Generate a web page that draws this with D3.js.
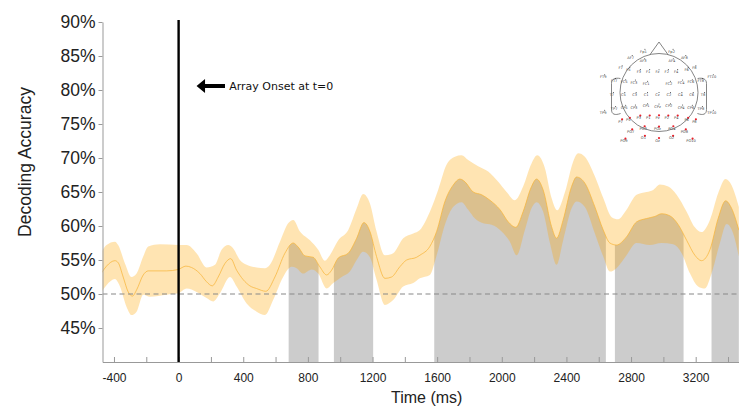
<!DOCTYPE html>
<meta charset="utf-8">
<style>

    body {
        margin: 0;
        background: #fff;
    }

    svg {
        display: block;
        font-family: "Liberation Sans", Arial, sans-serif;
    }

    .axis path, .axis line {
        stroke: #999;
    }

    .axis text {
        fill: #222;
    }

    .band {
        fill: #ffa500;
        fill-opacity: 0.3;
    }

    .mean {
        fill: none;
        stroke: #f7b53c;
        stroke-opacity: 0.75;
        stroke-width: 1;
    }

    .sig {
        fill: #cccccc;
    }

    .chance {
        stroke: #888;
        stroke-width: 1.2;
        stroke-dasharray: 5, 3.5;
    }

    .onset {
        stroke: #000;
        stroke-width: 2.4;
    }

    .head circle.outline, .head path {
        fill: none;
        stroke: #666;
        stroke-width: 0.8;
    }

    .head text {
        font-family: "DejaVu Sans", sans-serif;
        font-size: 3.6px;
        fill: #444;
        text-anchor: middle;
    }

</style>
<body>
<script src="https://d3js.org/d3.v7.min.js"></script>
<script>

    // time (ms), decoding accuracy (%)
    var meanAcc = [[-477,53.1],[-446,54.1],[-394,54.9],[-374,54.6],[-343,52.5],[-312,50.3],[-285,49.7],[-260,50.6],[-219,52.8],[-188,53.4],[-74,53.4],[-3,53.6],[45,54.1],[80,53.9],[132,53.0],[173,51.8],[208,51.2],[245,52.5],[287,54.5],[322,55.2],[359,53.5],[400,52.1],[441,51.2],[483,50.8],[540,50.4],[596,52.5],[658,56.0],[709,57.5],[740,56.9],[782,55.6],[833,55.4],[874,54.0],[916,52.8],[947,53.5],[988,55.3],[1050,56.0],[1102,58.2],[1147,60.5],[1184,59.2],[1225,55.5],[1277,52.3],[1318,52.5],[1369,54.0],[1411,55.0],[1473,55.4],[1493,55.7],[1555,57.0],[1597,59.2],[1648,63.6],[1699,66.0],[1741,66.9],[1772,66.5],[1823,65.0],[1875,64.6],[1926,63.8],[1989,62.4],[2040,60.6],[2087,59.8],[2132,62.1],[2184,65.8],[2215,66.9],[2256,65.3],[2308,59.9],[2339,58.2],[2380,60.9],[2432,65.8],[2463,67.2],[2514,66.3],[2576,62.8],[2628,59.4],[2669,57.5],[2710,57.2],[2772,58.4],[2834,60.6],[2896,61.1],[2947,61.4],[2989,61.8],[3040,61.5],[3092,60.2],[3144,57.9],[3195,55.7],[3236,54.9],[3288,56.5],[3339,61.1],[3385,63.7],[3422,62.6],[3467,59.4]];

    var upperAcc = [[-477,56.2],[-446,57.2],[-394,57.7],[-374,57.2],[-332,54.5],[-291,52.5],[-260,53.0],[-219,55.5],[-188,57.0],[-116,57.3],[-3,57.2],[50,57.2],[111,56.0],[173,53.9],[225,54.3],[266,56.5],[307,57.2],[338,56.7],[379,55.0],[421,54.3],[483,53.9],[534,53.8],[565,54.3],[627,57.7],[678,60.4],[709,60.9],[751,59.2],[813,57.9],[864,56.5],[905,54.9],[936,55.7],[988,57.9],[1050,59.4],[1102,62.6],[1142,64.7],[1184,63.3],[1225,59.2],[1277,55.7],[1328,56.0],[1390,58.2],[1452,58.9],[1493,59.4],[1555,62.1],[1606,65.3],[1658,69.0],[1710,70.2],[1751,70.4],[1792,69.7],[1854,68.8],[1916,68.0],[1978,66.5],[2030,65.0],[2081,63.8],[2132,65.8],[2184,69.2],[2219,70.4],[2267,68.5],[2308,64.1],[2343,62.3],[2391,65.0],[2442,69.5],[2473,70.7],[2514,70.2],[2576,67.3],[2628,64.1],[2680,61.3],[2720,61.0],[2772,62.4],[2834,64.6],[2896,65.0],[2937,65.3],[2978,66.1],[3030,65.8],[3082,64.6],[3144,62.1],[3195,59.8],[3236,59.1],[3288,60.9],[3339,64.8],[3385,66.9],[3422,66.0],[3467,62.8]];

    var lowerAcc = [[-477,50.3],[-446,51.3],[-394,52.2],[-363,51.1],[-322,48.1],[-291,46.9],[-260,47.4],[-219,49.9],[-178,49.6],[-74,49.9],[-3,50.1],[50,50.8],[111,50.3],[173,49.4],[214,48.9],[256,50.1],[318,52.5],[359,51.1],[421,48.6],[483,47.4],[534,46.9],[585,49.1],[647,52.5],[699,54.0],[730,53.8],[771,53.0],[823,53.6],[864,53.0],[916,50.8],[957,51.6],[1009,52.5],[1060,53.3],[1102,55.0],[1142,56.2],[1184,55.4],[1225,52.1],[1277,48.4],[1328,49.1],[1390,51.1],[1452,51.6],[1493,52.3],[1555,52.8],[1597,55.7],[1648,60.2],[1699,62.8],[1751,63.5],[1792,62.4],[1834,61.1],[1885,60.4],[1937,60.2],[1999,59.2],[2050,57.7],[2092,55.7],[2143,59.4],[2184,62.6],[2215,63.5],[2256,62.1],[2298,57.5],[2339,54.3],[2380,57.9],[2432,62.6],[2463,63.6],[2514,62.8],[2576,58.9],[2628,55.5],[2669,53.3],[2710,53.8],[2772,55.7],[2834,57.5],[2916,57.2],[2989,57.5],[3061,57.3],[3113,56.0],[3165,53.0],[3215,51.1],[3257,50.8],[3298,53.0],[3350,57.5],[3391,60.3],[3432,58.9],[3467,55.5]];

    // significant time windows (ms)
    var sigWindows = [[681, 866], [961, 1204], [1582, 2644], [2700, 3125], [3298, 3470]];

    var xTicks = [-400, -200, 0, 200, 400, 600, 800, 1000, 1200, 1400, 1600, 1800, 2000, 2200, 2400, 2600, 2800, 3000, 3200, 3400];
    var xLabels = [-400, 0, 400, 800, 1200, 1600, 2000, 2400, 2800, 3200];
    var yTicks = [45, 50, 55, 60, 65, 70, 75, 80, 85, 90];
    var chance = 50;

    var onsetNote = {text: "Array Onset at t=0", arrowFrom: 287, arrowTo: 111, textAt: 313, acc: 80.6};

    // electrodes: name, angle (deg, 0 = nose), radius (arc units), highlighted
    var electrodes = [
        ["Fp1",-18,.511,0],["Fp2",18,.511,0],["AF7",-36,.511,0],["AF3",-23,.411,0],["AF4",23,.411,0],["AF8",36,.511,0],
        ["F7",-54,.511,0],["F5",-49,.433,0],["F3",-39,.333,0],["F1",-22,.278,0],["Fz",0,.256,0],["F2",22,.278,0],["F4",39,.333,0],["F6",49,.433,0],["F8",54,.511,0],
        ["FT9",-72,.64,0],["FT7",-72,.511,0],["FC5",-69,.4,0],["FC3",-62,.3,0],["FC1",-45,.18,0],["FC2",45,.18,0],["FC4",62,.3,0],["FC6",69,.4,0],["FT8",72,.511,0],["FT10",72,.64,0],
        ["T7",-90,.511,0],["C5",-90,.383,0],["C3",-90,.256,0],["C1",-90,.128,0],["Cz",0,0,0],["C2",90,.128,0],["C4",90,.256,0],["C6",90,.383,0],["T8",90,.511,0],
        ["TP9",-108,.64,0],["TP7",-108,.511,0],["CP5",-111,.4,0],["CP3",-118,.3,0],["CP1",-135,.18,0],["CPz",180,.128,0],["CP2",135,.18,0],["CP4",118,.3,0],["CP6",111,.4,0],["TP8",108,.511,0],["TP10",108,.64,0],
        ["P7",-126,.511,1],["P5",-131,.433,1],["P3",-141,.333,1],["P1",-158,.278,1],["Pz",180,.256,1],["P2",158,.278,1],["P4",141,.333,1],["P6",131,.433,1],["P8",126,.511,1],
        ["PO9",-144,.64,1],["PO7",-144,.511,1],["PO3",-157,.411,1],["POz",180,.383,1],["PO4",157,.411,1],["PO8",144,.511,1],["PO10",144,.64,1],
        ["O1",-162,.511,1],["Oz",180,.511,1],["O2",162,.511,1]
    ];

    var width = 739, height = 407;
    var plot = {left: 102.5, right: 739, top: 22, bottom: 362};

    var x = d3.scaleLinear()
        .domain([-471, 3468])
        .range([plot.left, plot.right]);

    var y = d3.scaleLinear()
        .domain([40, 90])
        .range([plot.bottom, plot.top]);

    var svg = d3.select("body").append("svg")
        .attr("width", width)
        .attr("height", height);

    var defs = svg.append("defs");

    defs.append("clipPath").attr("id", "plot-clip")
        .append("rect")
        .attr("x", plot.left)
        .attr("y", plot.top)
        .attr("width", plot.right - plot.left)
        .attr("height", plot.bottom - plot.top);

    defs.append("clipPath").attr("id", "sig-clip")
        .selectAll("rect")
        .data(sigWindows)
        .enter().append("rect")
        .attr("x", function(d) { return x(d[0]); })
        .attr("width", function(d) { return x(d[1]) - x(d[0]); })
        .attr("y", plot.top)
        .attr("height", plot.bottom - plot.top);

    var line = d3.line()
        .x(function(d) { return x(d[0]); })
        .y(function(d) { return y(d[1]); })
        .curve(d3.curveMonotoneX);

    var underMean = d3.area()
        .x(function(d) { return x(d[0]); })
        .y0(y(40))
        .y1(function(d) { return y(d[1]); })
        .curve(d3.curveMonotoneX);

    var g = svg.append("g").attr("clip-path", "url(#plot-clip)");

    // grey significance areas under the mean
    g.append("path")
        .attr("class", "sig")
        .attr("clip-path", "url(#sig-clip)")
        .attr("d", underMean(meanAcc));

    // confidence band
    var bandPath = line(upperAcc) + line(lowerAcc.slice().reverse()).replace("M", "L") + "Z";
    g.append("path")
        .attr("class", "band")
        .attr("d", bandPath);

    g.append("path")
        .attr("class", "mean")
        .attr("d", line(meanAcc));

    g.append("line")
        .attr("class", "chance")
        .attr("x1", plot.left)
        .attr("x2", plot.right)
        .attr("y1", y(chance))
        .attr("y2", y(chance));

    // axes
    var xAxis = d3.axisBottom(x)
        .tickValues(xTicks)
        .tickSize(-5)
        .tickSizeOuter(0)
        .tickPadding(11)
        .tickFormat(function(d) { return xLabels.indexOf(d) >= 0 ? d : ""; });

    var yAxis = d3.axisLeft(y)
        .tickValues(yTicks)
        .tickSize(4)
        .tickSizeOuter(0)
        .tickPadding(3)
        .tickFormat(function(d) { return d + "%"; });

    svg.append("g")
        .attr("class", "x axis")
        .attr("transform", "translate(0," + plot.bottom + ")")
        .call(xAxis)
        .attr("font-family", "'Liberation Sans', Arial, sans-serif")
        .attr("font-size", 12);

    svg.append("g")
        .attr("class", "y axis")
        .attr("transform", "translate(" + plot.left + ",0)")
        .call(yAxis)
        .attr("font-family", "'Liberation Sans', Arial, sans-serif")
        .attr("font-size", 17.5);

    // onset line
    svg.append("line")
        .attr("class", "onset")
        .attr("x1", x(0))
        .attr("x2", x(0))
        .attr("y1", y(90) - 2)
        .attr("y2", y(40));

    svg.append("text")
        .attr("x", (plot.left + plot.right) / 2 + 6)
        .attr("y", 403)
        .attr("text-anchor", "middle")
        .attr("font-size", 16)
        .attr("fill", "#222")
        .text("Time (ms)");

    svg.append("text")
        .attr("transform", "translate(25,162) rotate(-90)")
        .attr("dy", "0.35em")
        .attr("text-anchor", "middle")
        .attr("font-size", 17.5)
        .attr("fill", "#222")
        .text("Decoding Accuracy");

    // annotation arrow
    var ax0 = x(onsetNote.arrowTo), ax1 = x(onsetNote.arrowFrom), ay = y(onsetNote.acc);
    var arrow = d3.path();
    arrow.moveTo(ax0, ay);
    arrow.lineTo(ax0 + 8.5, ay - 7);
    arrow.lineTo(ax0 + 8.5, ay - 2);
    arrow.lineTo(ax1, ay - 2);
    arrow.lineTo(ax1, ay + 2);
    arrow.lineTo(ax0 + 8.5, ay + 2);
    arrow.lineTo(ax0 + 8.5, ay + 7);
    arrow.closePath();
    svg.append("path")
        .attr("d", arrow.toString())
        .attr("fill", "#000");

    svg.append("text")
        .attr("x", x(onsetNote.textAt))
        .attr("y", ay)
        .attr("dy", "0.35em")
        .attr("font-family", "'DejaVu Sans', sans-serif")
        .attr("font-size", 11)
        .attr("fill", "#111")
        .text(onsetNote.text);

    // electrode layout inset
    var hr = 39;
    var head = svg.append("g")
        .attr("class", "head")
        .attr("transform", "translate(659,92.5)");

    var rScale = d3.scaleLinear().domain([0, 0.511]).range([0, 45.6]);

    head.append("circle").attr("class", "outline").attr("r", hr);
    head.append("path").attr("d", "M-9,-37.9L0,-50.5L9,-37.9");
    head.append("path").attr("d", "M-38.6,-14C-44,-15 -47.5,-13.5 -47.5,-9L-47.5,17C-47.5,22 -44,23 -38.4,21");
    head.append("path").attr("d", "M38.6,-14C44,-15 47.5,-13.5 47.5,-9L47.5,17C47.5,22 44,23 38.4,21");

    var el = head.selectAll("g.el")
        .data(electrodes)
        .enter().append("g")
        .attr("class", "el")
        .attr("transform", function(d) {
            var a = d[1] * Math.PI / 180, r = rScale(d[2]);
            return "translate(" + (r * Math.sin(a)) + "," + (-r * Math.cos(a)) + ")";
        });

    el.append("circle")
        .attr("r", function(d) { return d[3] ? 1.1 : 0.5; })
        .attr("fill", function(d) { return d[3] ? "#e8202a" : "#333"; });

    el.append("text")
        .attr("x", -1.5)
        .attr("y", 3.6)
        .text(function(d) { return d[0]; });

</script>
